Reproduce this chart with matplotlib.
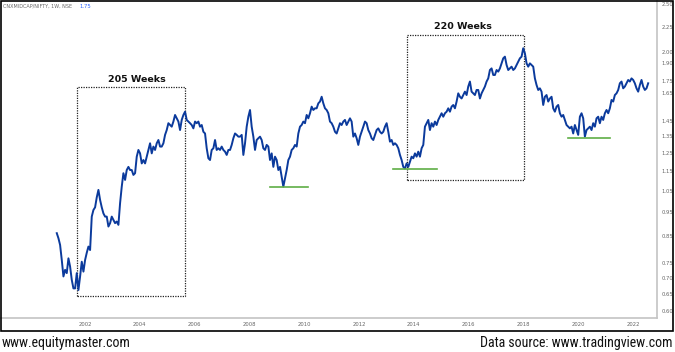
import numpy as np
import matplotlib.pyplot as plt
from matplotlib import font_manager
from matplotlib.patches import Rectangle

# CNX Midcap / Nifty ratio, sampled roughly every 22 days from Dec 2000
start_year = 2000.97
step_year = 0.0608

ratio_2001_2005 = [
    0.861, 0.841, 0.815, 0.760, 0.704, 0.726, 0.715, 0.766, 0.737, 0.693,
    0.666, 0.666, 0.715, 0.661, 0.704, 0.754, 0.720, 0.760, 0.786, 0.809,
    0.796, 0.930, 0.959, 0.971, 1.017, 1.053, 1.005, 0.971, 0.944, 0.930,
    0.930, 0.888, 0.902, 0.930, 0.916, 0.902, 0.909, 0.895, 0.990, 1.069,
    1.138, 1.103, 1.155, 1.172, 1.155, 1.155, 1.129, 1.138, 1.229, 1.268,
    1.248, 1.191, 1.210, 1.191, 1.229, 1.268, 1.308, 1.248, 1.288, 1.268,
    1.308, 1.328, 1.288, 1.288, 1.308, 1.360, 1.391, 1.436, 1.424, 1.413,
    1.447, 1.492, 1.469, 1.447, 1.391, 1.458, 1.492, 1.515, 1.458, 1.447,
    1.436, 1.424, 1.402, 1.447, 1.436, 1.447, 1.413, 1.424, 1.380, 1.369,
    1.278, 1.220, 1.210, 1.268, 1.278, 1.328, 1.268, 1.278, 1.268, 1.288,
    1.268, 1.258, 1.239, 1.268, 1.268, 1.298, 1.339, 1.369, 1.360, 1.349,
]
ratio_2007_2013 = [
    1.349, 1.360, 1.239, 1.308, 1.413, 1.480, 1.527, 1.413, 1.349, 1.268,
    1.328, 1.339, 1.349, 1.328, 1.278, 1.268, 1.298, 1.288, 1.210, 1.248,
    1.172, 1.229, 1.210, 1.155, 1.172, 1.120, 1.069, 1.112, 1.155, 1.210,
    1.229, 1.268, 1.278, 1.298, 1.288, 1.369, 1.413, 1.424, 1.447, 1.436,
    1.492, 1.469, 1.504, 1.551, 1.527, 1.539, 1.539, 1.575, 1.588, 1.624,
    1.575, 1.539, 1.527, 1.504, 1.447, 1.436, 1.413, 1.380, 1.369, 1.402,
    1.436, 1.424, 1.447, 1.458, 1.424, 1.447, 1.469, 1.447, 1.349, 1.369,
    1.339, 1.298, 1.349, 1.380, 1.413, 1.447, 1.436, 1.391, 1.369, 1.339,
    1.328, 1.360, 1.391, 1.402, 1.380, 1.369, 1.380, 1.413, 1.436, 1.380,
    1.318, 1.328, 1.298, 1.308, 1.298, 1.278, 1.239,
]
ratio_2013_2018 = [
    1.210, 1.172, 1.163, 1.191, 1.172, 1.200, 1.229, 1.220, 1.248, 1.229,
    1.258, 1.229, 1.278, 1.298, 1.413, 1.436, 1.458, 1.391, 1.436, 1.413,
    1.447, 1.424, 1.458, 1.480, 1.504, 1.480, 1.504, 1.515, 1.539, 1.515,
    1.551, 1.563, 1.539, 1.588, 1.650, 1.624, 1.611, 1.637, 1.663, 1.637,
    1.703, 1.743, 1.663, 1.650, 1.637, 1.676, 1.676, 1.611, 1.650, 1.676,
    1.703, 1.743, 1.769, 1.839, 1.853, 1.797, 1.797, 1.839, 1.825, 1.853,
    1.897, 1.942, 1.957, 1.883, 1.839, 1.853, 1.868, 1.839, 1.853, 1.883,
    1.912, 1.942, 1.957, 2.035, 1.988, 1.897, 1.868, 1.897, 1.883, 1.868,
]
ratio_2018_2022 = [
    1.769, 1.715, 1.676, 1.689, 1.663, 1.563, 1.624, 1.637, 1.588, 1.611,
    1.624, 1.539, 1.515, 1.551, 1.563, 1.504, 1.480, 1.492, 1.458, 1.424,
    1.413, 1.402, 1.413, 1.369, 1.424, 1.391, 1.360, 1.480, 1.504, 1.469,
    1.349, 1.391, 1.402, 1.413, 1.391, 1.436, 1.413, 1.469, 1.480, 1.436,
    1.480, 1.458, 1.504, 1.527, 1.504, 1.539, 1.600, 1.588, 1.637, 1.650,
    1.676, 1.729, 1.743, 1.689, 1.703, 1.729, 1.756, 1.743, 1.769, 1.756,
    1.729, 1.689, 1.663, 1.715, 1.756, 1.703, 1.676, 1.689, 1.729,
]

# annotations: dotted boxes (year from, year to, low, high) and support lines
box_205 = (2001.72, 2005.65, 0.643, 1.703)
box_220 = (2013.76, 2018.02, 1.103, 2.165)
supports = [(2008.75, 2010.14, 1.066), (2013.24, 2014.85, 1.16), (2019.63, 2021.16, 1.343)]

y_ticks = [0.60, 0.65, 0.70, 0.75, 0.85, 0.95, 1.05, 1.15, 1.25, 1.35, 1.45,
           1.65, 1.75, 1.90, 2.00, 2.25, 2.50]
x_ticks = list(range(2002, 2023, 2))

ratio = np.array(ratio_2001_2005 + ratio_2007_2013 + ratio_2013_2018 + ratio_2018_2022)
years = start_year + step_year * np.arange(len(ratio))

installed = {f.name for f in font_manager.fontManager.ttflist}
foot_font = next((f for f in ["Liberation Sans Narrow", "Roboto Condensed",
                              "Open Sans Condensed", "Roboto"] if f in installed),
                 "DejaVu Sans")
foot_size = 10 if ("Narrow" in foot_font or "Condensed" in foot_font) else 8.8

fig = plt.figure(figsize=(6.75, 3.52), dpi=100)
ax = fig.add_axes([0, 34 / 352, 657 / 675, 318 / 352])

ax.plot(years, ratio, color="#0b3a9c", lw=1.4, zorder=3)

for x0, x1, lo, hi in (box_205, box_220):
    ax.plot([x0, x0, x1, x1, x0], [lo, hi, hi, lo, lo], color="#222222",
            lw=0.9, ls=(0, (1, 1)), zorder=2)
for x0, x1, lvl in supports:
    ax.plot([x0, x1], [lvl, lvl], color="#5fae45", lw=1.2, zorder=4)

ax.text(2003.88, 1.756, "205 Weeks", ha="center", va="center", fontsize=6.8,
        fontweight="bold", color="#111111")
ax.text(2015.80, 2.25, "220 Weeks", ha="center", va="center", fontsize=6.8,
        fontweight="bold", color="#111111")

ax.set_yscale("log")
ax.set_ylim(0.5803, 2.547)
ax.set_xlim(1998.898, 2022.876)
ax.yaxis.tick_right()
ax.set_yticks(y_ticks)
ax.set_yticklabels(["%.2f" % v for v in y_ticks])
ax.minorticks_off()
ax.set_xticks(x_ticks)
ax.set_xticklabels([str(v) for v in x_ticks])
ax.tick_params(axis="both", length=0, labelsize=3.8, labelcolor="#666666")
ax.tick_params(axis="y", pad=3)
ax.tick_params(axis="x", pad=3)
for side in ("left", "top"):
    ax.spines[side].set_visible(False)
for side in ("right", "bottom"):
    ax.spines[side].set_color("#c4c4c4")
    ax.spines[side].set_linewidth(1.2)

fig.text(3 / 675, 1 - 6 / 352, "CNXMIDCAP/NIFTY, 1W, NSE", fontsize=3.5,
         color="#666666", va="center", ha="left")
fig.text(79 / 675, 1 - 6 / 352, "1.75", fontsize=3.8, color="#2962ff",
         va="center", ha="left")

fig.patches.append(Rectangle((0.5 / 675, 21 / 352), 672.5 / 675, 330.5 / 352,
                             transform=fig.transFigure, fill=False,
                             edgecolor="black", lw=1.2))

fig.text(2 / 675, 9 / 352, "www.equitymaster.com", fontsize=foot_size,
         family=[foot_font, "DejaVu Sans"], va="center", ha="left", color="#111111")
fig.text(672 / 675, 9 / 352, "Data source: www.tradingview.com", fontsize=foot_size,
         family=[foot_font, "DejaVu Sans"], va="center", ha="right", color="#111111")

fig.savefig("out.png", dpi=100)
